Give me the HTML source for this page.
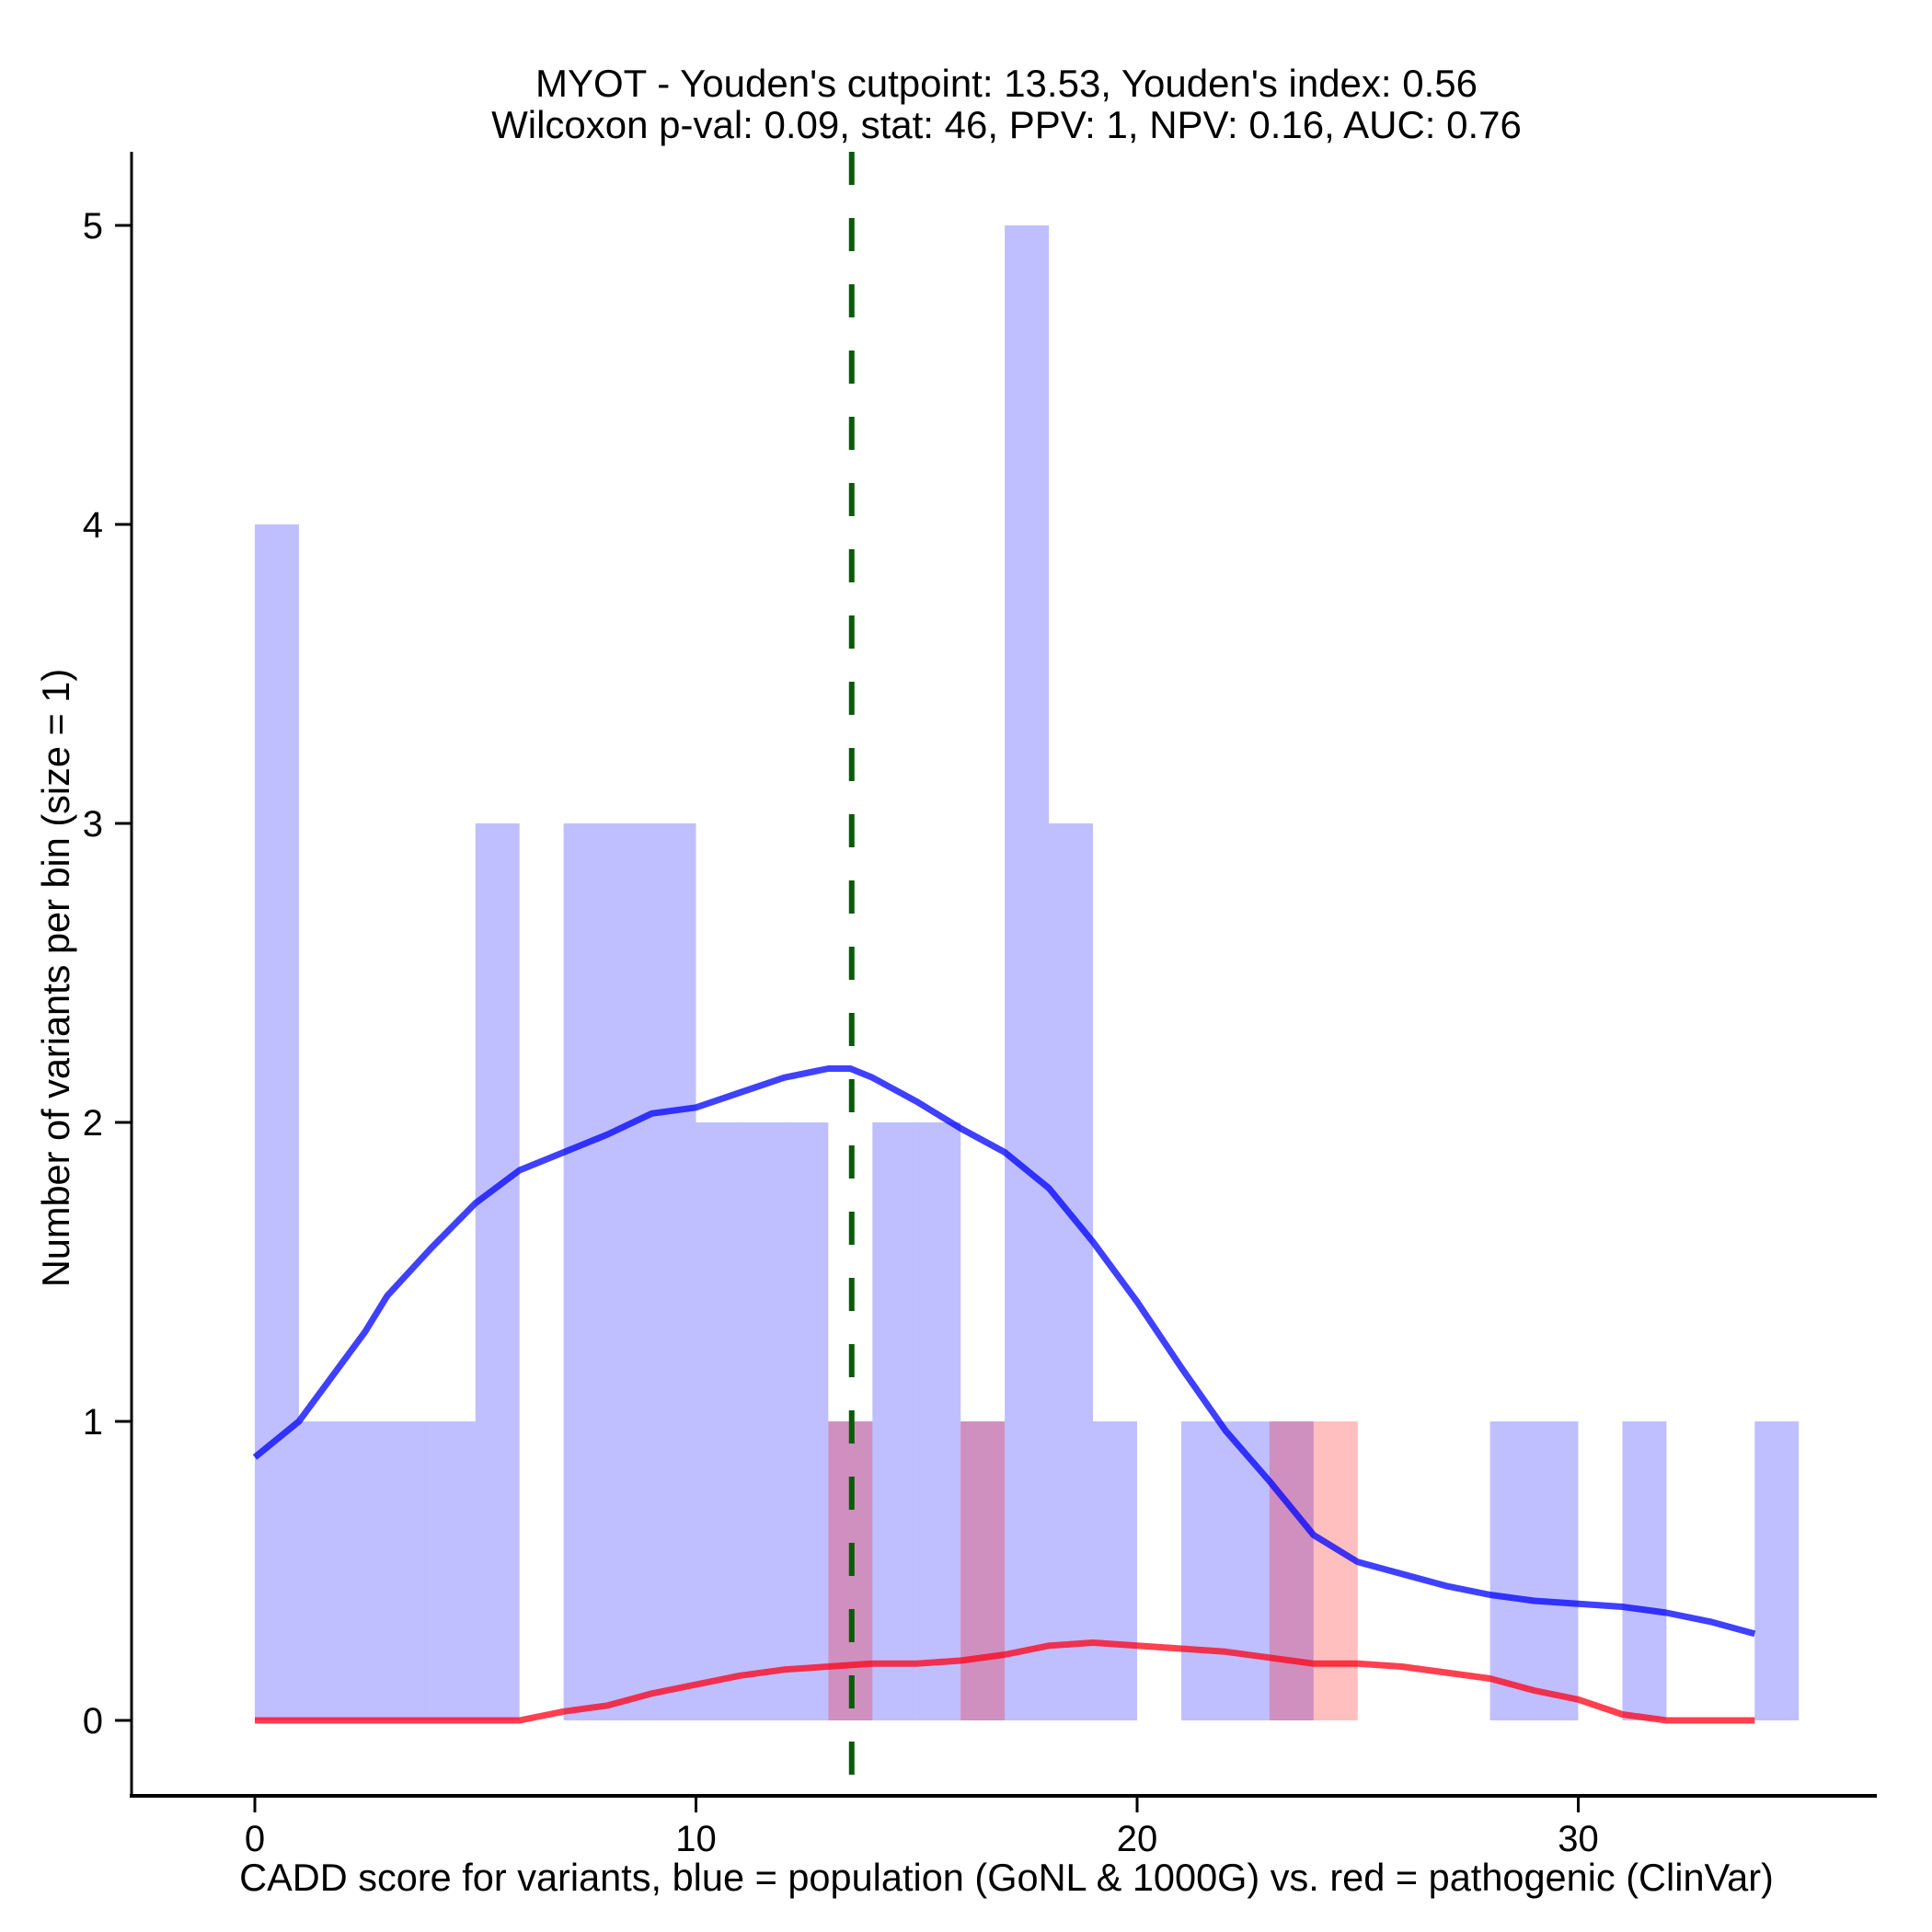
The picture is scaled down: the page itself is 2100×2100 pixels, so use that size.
<!DOCTYPE html>
<html><head><meta charset="utf-8"><style>
html,body{margin:0;padding:0;background:#fff;}
svg{display:block;font-family:"Liberation Sans",Arial,sans-serif;}
</style></head><body>
<svg id="chart" width="2100" height="2100" viewBox="0 0 2100 2100">
<g id="bars"></g>
<g id="lines"></g>
<g id="axes"></g>
<text x="1094" y="105" font-size="42" text-anchor="middle">MYOT - Youden's cutpoint: 13.53, Youden's index: 0.56</text>
<text x="1094" y="150" font-size="42" text-anchor="middle">Wilcoxon p-val: 0.09, stat: 46, PPV: 1, NPV: 0.16, AUC: 0.76</text>
<text x="1094" y="2055" font-size="41.5" text-anchor="middle">CADD score for variants, blue = population (GoNL &amp; 1000G) vs. red = pathogenic (ClinVar)</text>
<text x="0" y="0" font-size="41.5" text-anchor="middle" transform="translate(75,1063) rotate(-90)">Number of variants per bin (size = 1)</text>
</svg>
<script>
const blueCounts = [4,1,1,1,1,3,0,3,3,3,2,2,2,1,2,2,1,5,3,1,0,1,1,1,0,0,0,0,1,1,0,1,0,0,1];
const redCounts  = [0,0,0,0,0,0,0,0,0,0,0,0,0,1,0,0,1,0,0,0,0,0,0,1,1,0,0,0,0,0,0,0,0,0,0];
const densX = [0,1,1.5,2.5,3,4,5,6,7,8,9,10,11,12,13,13.5,14,15,16,17,18,19,20,21,22,23,24,25,26,27,28,29,30,31,32,33,34];
const blueDens = [0.88,1.0,1.1,1.3,1.42,1.58,1.73,1.84,1.9,1.96,2.03,2.05,2.1,2.15,2.18,2.18,2.15,2.07,1.98,1.9,1.78,1.6,1.4,1.18,0.97,0.8,0.62,0.53,0.49,0.45,0.42,0.4,0.39,0.38,0.36,0.33,0.29];
const redDens  = [0,0,0,0,0,0,0,0,0.03,0.05,0.09,0.12,0.15,0.17,0.18,0.185,0.19,0.19,0.2,0.22,0.25,0.26,0.25,0.24,0.23,0.21,0.19,0.19,0.18,0.16,0.14,0.1,0.07,0.02,0,0,0];
const xTicks = [0,10,20,30];
const yTicks = [0,1,2,3,4,5];
const cutpoint = 13.53;

const NS="http://www.w3.org/2000/svg";
const X = v => 277 + v*47.95;
const Y = v => 1870 - v*325;
function mk(tag, attrs, parent){const e=document.createElementNS(NS,tag);for(const k in attrs)e.setAttribute(k,attrs[k]);parent.appendChild(e);return e;}
const bars=document.getElementById('bars'), lines=document.getElementById('lines'), axes=document.getElementById('axes');

blueCounts.forEach((c,i)=>{ if(!c) return;
  const r=mk('rect',{x:X(i),y:Y(c),width:X(i+1)-X(i),height:Y(0)-Y(c),fill:'rgba(0,0,255,0.25)'},bars);
  
  
});
redCounts.forEach((c,i)=>{ if(!c) return;
  const r=mk('rect',{x:X(i),y:Y(c),width:X(i+1)-X(i),height:Y(0)-Y(c),fill:'rgba(255,0,0,0.25)'},bars);
  
  
});
function pathOf(ys){return densX.map((x,i)=>(i?'L':'M')+X(x).toFixed(1)+' '+Y(ys[i]).toFixed(1)).join(' ');}
const bl=mk('path',{d:pathOf(blueDens),fill:'none',stroke:'rgba(0,0,255,0.75)','stroke-width':7,'stroke-linejoin':'round'},lines);


const rl=mk('path',{d:pathOf(redDens),fill:'none',stroke:'rgba(255,0,20,0.75)','stroke-width':7,'stroke-linejoin':'round'},lines);


const cut=mk('line',{x1:X(cutpoint),x2:X(cutpoint),y1:165,y2:1952,stroke:'#0a5a0a','stroke-width':6,'stroke-dasharray':'36 36'},lines);



const ya=mk('line',{x1:143,x2:143,y1:165,y2:1954,stroke:'#000','stroke-width':3},axes);


const xa=mk('line',{x1:141,x2:2040,y1:1952,y2:1952,stroke:'#000','stroke-width':4},axes);


xTicks.forEach(t=>{
  const l=mk('line',{x1:X(t),x2:X(t),y1:1952,y2:1970,stroke:'#000','stroke-width':3},axes);
  
  
  const tx=mk('text',{x:X(t),y:2012,'font-size':40,'text-anchor':'middle'},axes);
  tx.textContent=t;
  
  
});
yTicks.forEach(t=>{
  const l=mk('line',{x1:125,x2:143,y1:Y(t),y2:Y(t),stroke:'#000','stroke-width':3},axes);
  
  
  const tx=mk('text',{x:112,y:Y(t)+14,'font-size':40,'text-anchor':'end'},axes);
  tx.textContent=t;
  
  
});
</script>
</body></html>
